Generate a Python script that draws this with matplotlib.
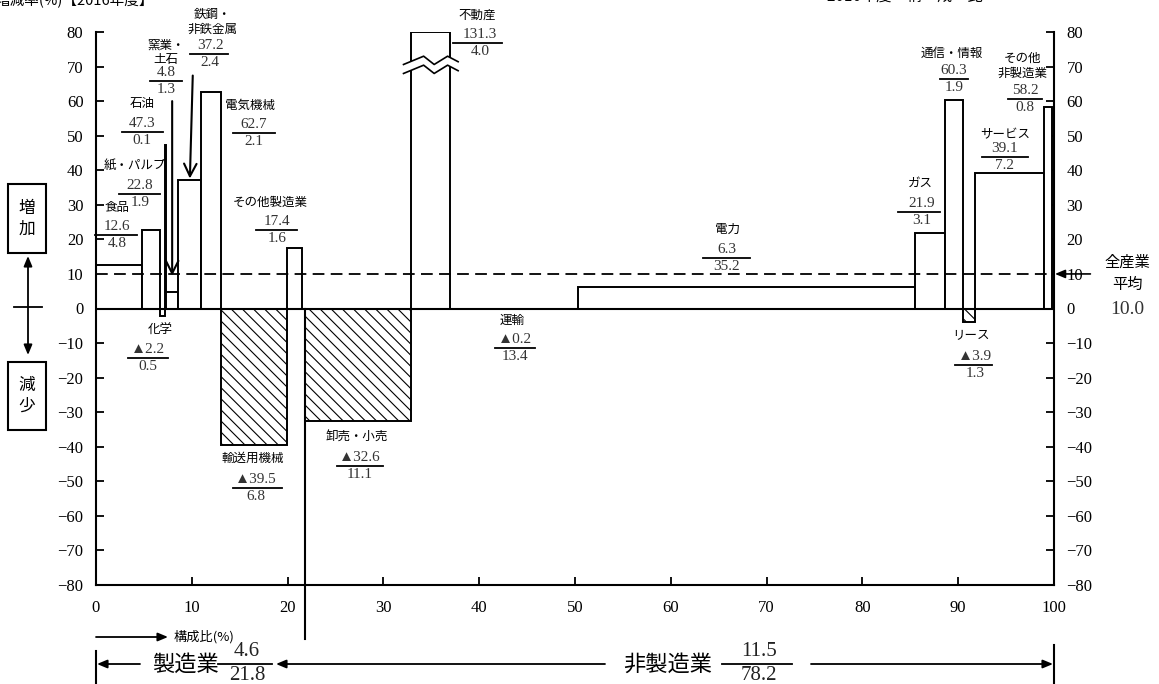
import matplotlib
matplotlib.use("Agg")
import matplotlib.pyplot as plt
import matplotlib.transforms as mtransforms
from matplotlib.patches import Rectangle, Polygon
import numpy as np

plt.rcParams["font.family"] = ["Noto Sans CJK JP", "DejaVu Sans"]
plt.rcParams["hatch.linewidth"] = 0.8
SERIF = ["Liberation Serif", "DejaVu Sans"]

# ---- data (増減率 %, 構成比 %) ----
mfg_names = ["食品", "紙・パルプ", "化学", "石油", "窯業・\n土石", "鉄鋼・\n非鉄金属",
             "電気機械", "輸送用機械", "その他製造業"]
mfg_growth = [12.6, 22.8, -2.2, 47.3, 4.8, 37.2, 62.7, -39.5, 17.4]
mfg_share = [4.8, 1.9, 0.5, 0.1, 1.3, 2.4, 2.1, 6.8, 1.6]

non_names = ["卸売・小売", "不動産", "運輸", "電力", "ガス", "通信・情報", "リース",
             "サービス", "その他\n非製造業"]
non_growth = [-32.6, 131.3, -0.2, 6.3, 21.9, 60.3, -3.9, 39.1, 58.2]
non_share = [11.1, 4.0, 13.4, 35.2, 3.1, 1.9, 1.3, 7.2, 0.8]

mfg_total = (4.6, 21.8)
non_total = (11.5, 78.2)
all_avg = 10.0
y_ticks = list(range(-80, 81, 10))
x_ticks = list(range(0, 101, 10))

# ---- layout of labels, reference pixels: name (x, y), fraction centre x, line y, line x0-x1 ----
label_pos = [
    ((117, 207), 117, 235, (95, 137)),
    ((135, 165), 140, 194, (119, 160)),
    ((160, 330), 148, 358, (128, 168)),
    ((142, 103), 142, 132, (122, 163)),
    ((166, 52), 166, 81, (150, 182)),
    ((212, 22), 210, 54, (190, 228)),
    ((250, 105), 254, 133, (233, 275)),
    ((253, 458), 256, 488, (233, 282)),
    ((270, 202), 277, 230, (256, 297)),
    ((357, 437), 360, 466, (337, 383)),
    ((477, 15), 480, 43, (453, 502)),
    ((512, 320), 515, 348, (495, 535)),
    ((727, 229), 727, 258, (703, 750)),
    ((920, 183), 922, 212, (898, 940)),
    ((952, 53), 954, 79, (940, 968)),
    ((971, 336), 975, 365, (955, 992)),
    ((1005, 135), 1005, 157, (982, 1028)),
    ((1022, 66), 1025, 99, (1008, 1042)),
]

W, H = 1159, 684
fig = plt.figure(figsize=(W / 100, H / 100), dpi=100)
ax = fig.add_axes([96 / W, 1 - 585 / H, (1054 - 96) / W, (585 - 32) / H])
pix = mtransforms.Affine2D().scale(1 / W, -1 / H).translate(0, 1) + fig.transFigure

names = mfg_names + non_names
growth = np.array(mfg_growth + non_growth)
share = np.array(mfg_share + non_share)
left = np.concatenate([np.cumsum([0] + mfg_share[:-1]),
                       mfg_total[1] + np.cumsum([0] + non_share[:-1])])
ylim = y_ticks[-1]
height = np.clip(growth, -ylim, ylim)

for l, w, h in zip(left, share, height):
    ax.bar(l, h, width=w, align="edge", facecolor="white", edgecolor="black",
           lw=1.4, hatch="\\\\\\" if h < 0 else None, zorder=2)

# broken bar mark for values above the scale
for l, w, g in zip(left, share, growth):
    if g > ylim:
        b = ylim - 12
        xs = np.array([l - 0.8, l + 1.3, l + 2.4, l + 3.8, l + w + 0.9])
        ys = np.array([0, 2.4, 0, 2.4, 0.8]) + b
        gap = 2.6
        ax.add_patch(Polygon(np.c_[np.r_[xs, xs[::-1]], np.r_[ys, ys[::-1] + gap]],
                             closed=True, facecolor="white", edgecolor="none",
                             zorder=3, clip_on=False))
        ax.plot(xs, ys, color="black", lw=1.2, zorder=4, clip_on=False)
        ax.plot(xs, ys + gap, color="black", lw=1.2, zorder=4, clip_on=False)

ax.axhline(0, color="black", lw=1.5, zorder=3)
ax.plot([0, 100], [all_avg, all_avg], color="black", lw=1.3,
        linestyle=(0, (6.5, 3.5)), zorder=5)
ax.annotate("", xy=(100.1, all_avg), xytext=(103.8, all_avg),
            arrowprops=dict(arrowstyle="-|>,head_length=0.6,head_width=0.25",
                            color="black", lw=1.2, shrinkA=0, shrinkB=0),
            annotation_clip=False)

# manufacturing / non-manufacturing divider
ax.plot([mfg_total[1]] * 2, [0, -95.5], color="black", lw=1.5, zorder=3, clip_on=False)

# arrows to thin bars
for idx, y_from, y_to in [(4, 60.0, 9.5), (5, 67.4, 37.6)]:
    xc = left[idx] + share[idx] / 2
    ax.annotate("", xy=(xc, y_to), xytext=(xc + (0.3 if idx == 5 else 0), y_from),
                arrowprops=dict(arrowstyle="->,head_length=0.9,head_width=0.45",
                                color="black", lw=1.5, shrinkA=0, shrinkB=0),
                zorder=6)

# labels with fractions
for i, (nm, (npos, cx, ly, (x0, x1))) in enumerate(zip(names, label_pos)):
    g = growth[i]
    num = f"{g:.1f}" if g >= 0 else f"▲{abs(g):.1f}"
    ax.text(npos[0], npos[1], nm, transform=pix, ha="center", va="center",
            fontsize=9, linespacing=1.15)
    ax.plot([x0, x1], [ly, ly], transform=pix, color="black", lw=1.3, clip_on=False)
    ax.text(cx, ly - 8.5, num, transform=pix, ha="center", va="center",
            fontsize=11, family=SERIF, color="#333333")
    ax.text(cx, ly + 8.5, f"{share[i]:.1f}", transform=pix, ha="center", va="center",
            fontsize=11, family=SERIF, color="#333333")

# axes styling
ax.set_xlim(0, 100)
ax.set_ylim(-ylim, ylim)
ax.set_xticks(x_ticks)
ax.set_yticks(y_ticks)
ax.spines["top"].set_visible(False)
for s in ["left", "right", "bottom"]:
    ax.spines[s].set_linewidth(1.5)
ax.tick_params(axis="y", direction="in", length=6, width=1.3, left=True, right=True,
               labelleft=True, labelright=True, pad=9, labelsize=12,
               labelfontfamily="Liberation Serif")
ax.tick_params(axis="x", direction="in", length=6, width=1.3, pad=11, labelsize=12,
               labelfontfamily="Liberation Serif")

# average label
fig.text(1127 / W, 1 - 262 / H, "全産業", ha="center", va="center", fontsize=11)
fig.text(1127 / W, 1 - 284 / H, "平均", ha="center", va="center", fontsize=11)
fig.text(1127 / W, 1 - 310 / H, f"{all_avg:.1f}", ha="center", va="center",
         fontsize=14, family=SERIF, color="#333333")

# titles (cut off at top, as in the source)
fig.text(-4 / W, 1 - 1 / H, "増減率(%)【2016年度】", ha="left", va="center", fontsize=10.5)
fig.text(905 / W, 1 + 4 / H, "2016年度　構　成　比", ha="center", va="center", fontsize=11)

# increase / decrease boxes
for (y0, y1), txt in [((184, 253), "増\n加"), ((362, 430), "減\n少")]:
    fig.patches.append(Rectangle((8, y0), 38, y1 - y0, transform=pix, fill=False,
                                 edgecolor="black", lw=1.5))
    fig.text(27 / W, 1 - (y0 + y1) / 2 / H, txt, ha="center", va="center",
             fontsize=12, linespacing=1.3)
ax.annotate("", xy=(28, 256), xytext=(28, 355), xycoords=pix, textcoords=pix,
            arrowprops=dict(arrowstyle="<|-|>,head_length=0.6,head_width=0.25",
                            color="black", lw=1.3, shrinkA=0, shrinkB=0),
            annotation_clip=False)
ax.plot([14, 42], [307, 307], transform=pix, color="black", lw=1.3, clip_on=False)

# bottom: composition arrow
ax.annotate("", xy=(168, 637), xytext=(96, 637), xycoords=pix, textcoords=pix,
            arrowprops=dict(arrowstyle="-|>,head_length=0.6,head_width=0.25",
                            color="black", lw=1.3, shrinkA=0, shrinkB=0),
            annotation_clip=False)
fig.text(174 / W, 1 - 637 / H, "構成比(%)", ha="left", va="center", fontsize=9.5)

row = 664
ax.plot([96, 96], [651, 690], transform=pix, color="black", lw=1.5, clip_on=False)
ax.plot([1054, 1054], [645, 690], transform=pix, color="black", lw=1.5, clip_on=False)
arrow_kw = dict(arrowstyle="-|>,head_length=0.6,head_width=0.25", color="black",
                lw=1.3, shrinkA=0, shrinkB=0)
for tip, tail in [(97, 140), (276, 605), (1053, 811)]:
    ax.annotate("", xy=(tip, row), xytext=(tail, row), xycoords=pix, textcoords=pix,
                arrowprops=arrow_kw, annotation_clip=False)

for txt, tc, (fx0, fx1), tot in [("製造業", 186, (218, 272), mfg_total),
                                 ("非製造業", 668, (722, 792), non_total)]:
    fig.text(tc / W, 1 - row / H, txt, ha="center", va="center", fontsize=16)
    ax.plot([fx0, fx1], [row, row], transform=pix, color="black", lw=1.3, clip_on=False)
    fc = (fx0 + fx1) / 2 + 2
    fig.text(fc / W, 1 - 651 / H, f"{tot[0]:.1f}", ha="center", va="center",
             fontsize=15, family=SERIF, color="#222222")
    fig.text(fc / W, 1 - 675 / H, f"{tot[1]:.1f}", ha="center", va="center",
             fontsize=15, family=SERIF, color="#222222")

fig.savefig("out.png", dpi=100)
